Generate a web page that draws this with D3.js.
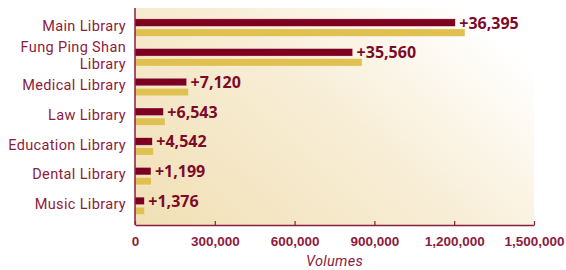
<!DOCTYPE html>
<html>
<head>
<meta charset="utf-8">
<script src="https://cdn.jsdelivr.net/npm/d3@7"></script>
<style>
  body { margin: 0; background: #fff; }
  svg { display: block; font-family: 'Open Sans', 'Noto Sans', sans-serif; }
  .cat-label { fill: #8c1c3c; font-family: Roboto, 'Open Sans', sans-serif; font-size: 14.5px; letter-spacing: 0.35px; }
  .val-label { fill: #7d0a28; font-size: 16px; font-weight: bold; }
  .tick-label { fill: #8c1c3c; font-size: 13.5px; font-weight: bold; }
  .axis-title { fill: #8c1c3c; font-family: Roboto, 'Open Sans', sans-serif; font-size: 14.5px; font-style: italic; letter-spacing: 0.3px; }
</style>
</head>
<body>
<div id="chart"></div>
<script>
'use strict';

// libraries, top to bottom
var libraries = [
  'Main Library',
  'Fung Ping Shan|Library',
  'Medical Library',
  'Law Library',
  'Education Library',
  'Dental Library',
  'Music Library'
];

// previous year volumes (dark bar)
var previousVolumes = [1204000, 818000, 194000, 106500, 65000, 60000, 35000];

// current year volumes (gold bar)
var currentVolumes = [1240395, 853560, 201120, 113043, 69542, 61199, 36376];

// growth labels
var growthLabels = ['+36,395', '+35,560', '+7,120', '+6,543', '+4,542', '+1,199', '+1,376'];

var xTicks = [0, 300000, 600000, 900000, 1200000, 1500000];

var WIDTH = 566,
    HEIGHT = 270,
    plotLeft = 135,
    plotRight = 534,
    plotTop = 8,
    plotBottom = 225;

var svg = d3.select('#chart').append('svg')
    .attr('width', WIDTH)
    .attr('height', HEIGHT)
    .attr('viewBox', '0 0 ' + WIDTH + ' ' + HEIGHT);

// soft beige wash behind the bars
var grad = svg.append('defs').append('linearGradient')
    .attr('id', 'bgWash')
    .attr('gradientUnits', 'userSpaceOnUse')
    .attr('x1', plotLeft).attr('y1', plotBottom)
    .attr('x2', plotLeft + 320).attr('y2', plotTop - 150);
grad.append('stop').attr('offset', 0).attr('stop-color', '#f1e0b5');
grad.append('stop').attr('offset', 0.45).attr('stop-color', '#f8eed7');
grad.append('stop').attr('offset', 0.78).attr('stop-color', '#ffffff');

svg.append('rect')
    .attr('x', plotLeft)
    .attr('y', plotTop)
    .attr('width', plotRight - plotLeft)
    .attr('height', plotBottom - plotTop)
    .attr('fill', 'url(#bgWash)');

var x = d3.scaleLinear()
    .domain([0, 1500000])
    .range([plotLeft, plotRight]);

var y = d3.scaleBand()
    .domain(libraries)
    .range([13, 221]);

var rows = libraries.map(function (name, i) {
  return {
    name: name,
    prev: previousVolumes[i],
    curr: currentVolumes[i],
    label: growthLabels[i]
  };
});

var groups = svg.append('g').selectAll('g')
    .data(rows)
    .enter().append('g')
    .attr('transform', function (d) {
      return 'translate(0,' + (y(d.name) + y.bandwidth() / 2) + ')';
    });

// dark bar
groups.append('rect')
    .attr('x', x(0))
    .attr('y', -9)
    .attr('height', 7.5)
    .attr('width', function (d) { return x(d.prev) - x(0); })
    .attr('fill', '#7d0020')
    .attr('stroke', '#ffffff')
    .attr('stroke-opacity', 0.5)
    .attr('stroke-width', 0.6);

// gold bar
groups.append('rect')
    .attr('x', x(0))
    .attr('y', 1)
    .attr('height', 7.5)
    .attr('width', function (d) { return x(d.curr) - x(0); })
    .attr('fill', '#dfc050')
    .attr('stroke', '#ffffff')
    .attr('stroke-opacity', 0.5)
    .attr('stroke-width', 0.6);

groups.append('text')
    .attr('class', 'val-label')
    .attr('x', function (d) { return x(d.prev) + 4; })
    .attr('y', -5)
    .attr('dy', '0.36em')
    .text(function (d) { return d.label; });

// category labels, split on '|'
groups.append('text')
    .attr('class', 'cat-label')
    .attr('text-anchor', 'end')
    .attr('x', 126)
    .each(function (d) {
      var lines = d.name.split('|'),
          el = d3.select(this),
          first = lines.length > 1 ? -6 : 3;
      lines.forEach(function (line, j) {
        el.append('tspan')
            .attr('x', 126)
            .attr('y', first + j * 17)
            .text(line);
      });
    });

// y axis line
svg.append('line')
    .attr('x1', plotLeft).attr('x2', plotLeft)
    .attr('y1', plotTop).attr('y2', plotBottom)
    .attr('stroke', '#8c1c3c')
    .attr('stroke-width', 1.5);

// x axis
var xAxis = d3.axisBottom(x)
    .tickValues(xTicks)
    .tickSizeInner(-4)
    .tickSizeOuter(0)
    .tickPadding(11)
    .tickFormat(d3.format(','));

var axisG = svg.append('g')
    .attr('transform', 'translate(0,' + plotBottom + ')')
    .call(xAxis);

axisG.select('.domain')
    .attr('stroke', '#8c1c3c')
    .attr('stroke-width', 1.5);
axisG.selectAll('.tick line')
    .attr('stroke', '#8c1c3c')
    .attr('stroke-width', 1.2);
axisG.selectAll('.tick text')
    .attr('class', 'tick-label')
    .attr('font-family', null)
    .attr('font-size', null)
    .attr('fill', null);

svg.append('text')
    .attr('class', 'axis-title')
    .attr('text-anchor', 'middle')
    .attr('x', (plotLeft + plotRight) / 2)
    .attr('y', 266)
    .text('Volumes');
</script>
</body>
</html>
